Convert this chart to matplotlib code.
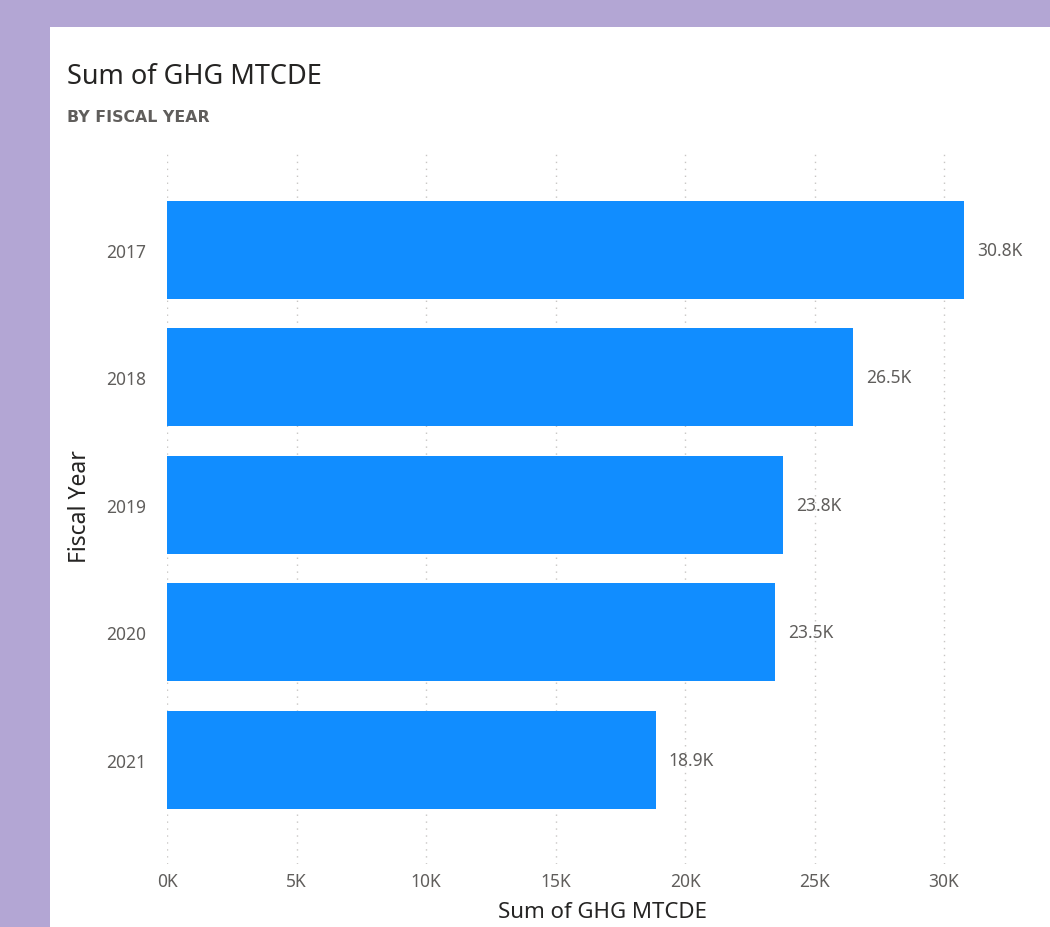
import matplotlib
matplotlib.use("Agg")
import matplotlib.pyplot as plt
from matplotlib.patches import Rectangle
from matplotlib.ticker import FuncFormatter, MultipleLocator

years = ["2017", "2018", "2019", "2020", "2021"]
ghg = [30770, 26500, 23780, 23470, 18870]
labels = ["30.8K", "26.5K", "23.8K", "23.5K", "18.9K"]

plt.rcParams["font.family"] = ["Noto Sans", "DejaVu Sans"]

W, H = 1050, 928
fig = plt.figure(figsize=(W / 100, H / 100), dpi=100)
fig.patch.set_facecolor("#B3A6D4")

# white card behind everything
bg = fig.add_axes([0, 0, 1, 1], zorder=-10)
bg.set_axis_off()
bg.set_xlim(0, W)
bg.set_ylim(H, 0)
bg.add_patch(Rectangle((50, 28), W - 50, H - 28, facecolor="white", edgecolor="none"))

left, right, top, bottom = 167, 1000, 153, 865
ax = fig.add_axes([left / W, 1 - bottom / H, (right - left) / W, (bottom - top) / H])
ax.set_facecolor("none")

pos = list(range(len(years)))
ax.barh(pos, ghg, height=0.77, color="#118DFF", zorder=2)
ax.set_xlim(0, 32160)
ax.set_ylim(4.82, -0.77)
ax.set_yticks(pos)
ax.set_yticklabels(years)
ax.xaxis.set_major_locator(MultipleLocator(5000))
ax.xaxis.set_major_formatter(FuncFormatter(lambda v, p: "%dK" % (v / 1000)))

for s in ax.spines.values():
    s.set_visible(False)
ax.tick_params(length=0, labelsize=12.5, colors="#605E5C")
ax.tick_params(axis="y", pad=15)
ax.tick_params(axis="x", pad=6)
ax.grid(axis="x", linestyle=(0, (1, 4)), color="#C8C6C4", linewidth=1, zorder=0)

for y, v, t in zip(pos, ghg, labels):
    ax.text(v + 500, y, t, va="center", ha="left", fontsize=12.5, color="#605E5C")

ax.set_xlabel("Sum of GHG MTCDE", fontsize=16, color="#252423", fontweight="medium")
ax.xaxis.set_label_coords((603 - left) / (right - left), (bottom - 913) / (bottom - top))
ax.xaxis.label.set_va("center")
ax.set_ylabel("Fiscal Year", fontsize=16.5, color="#252423", fontweight="medium")
ax.yaxis.set_label_coords((80 - left) / (right - left), (bottom - 507) / (bottom - top))
ax.yaxis.label.set_va("center")

fig.text(67 / W, 1 - 77 / H, "Sum of GHG MTCDE", fontsize=19.5, color="#252423",
         va="center", ha="left")
fig.text(67 / W, 1 - 118 / H, "BY FISCAL YEAR", fontsize=11.3, color="#605E5C",
         va="center", ha="left", fontweight="bold", family="DejaVu Sans")

fig.savefig("out.png", dpi=100)
